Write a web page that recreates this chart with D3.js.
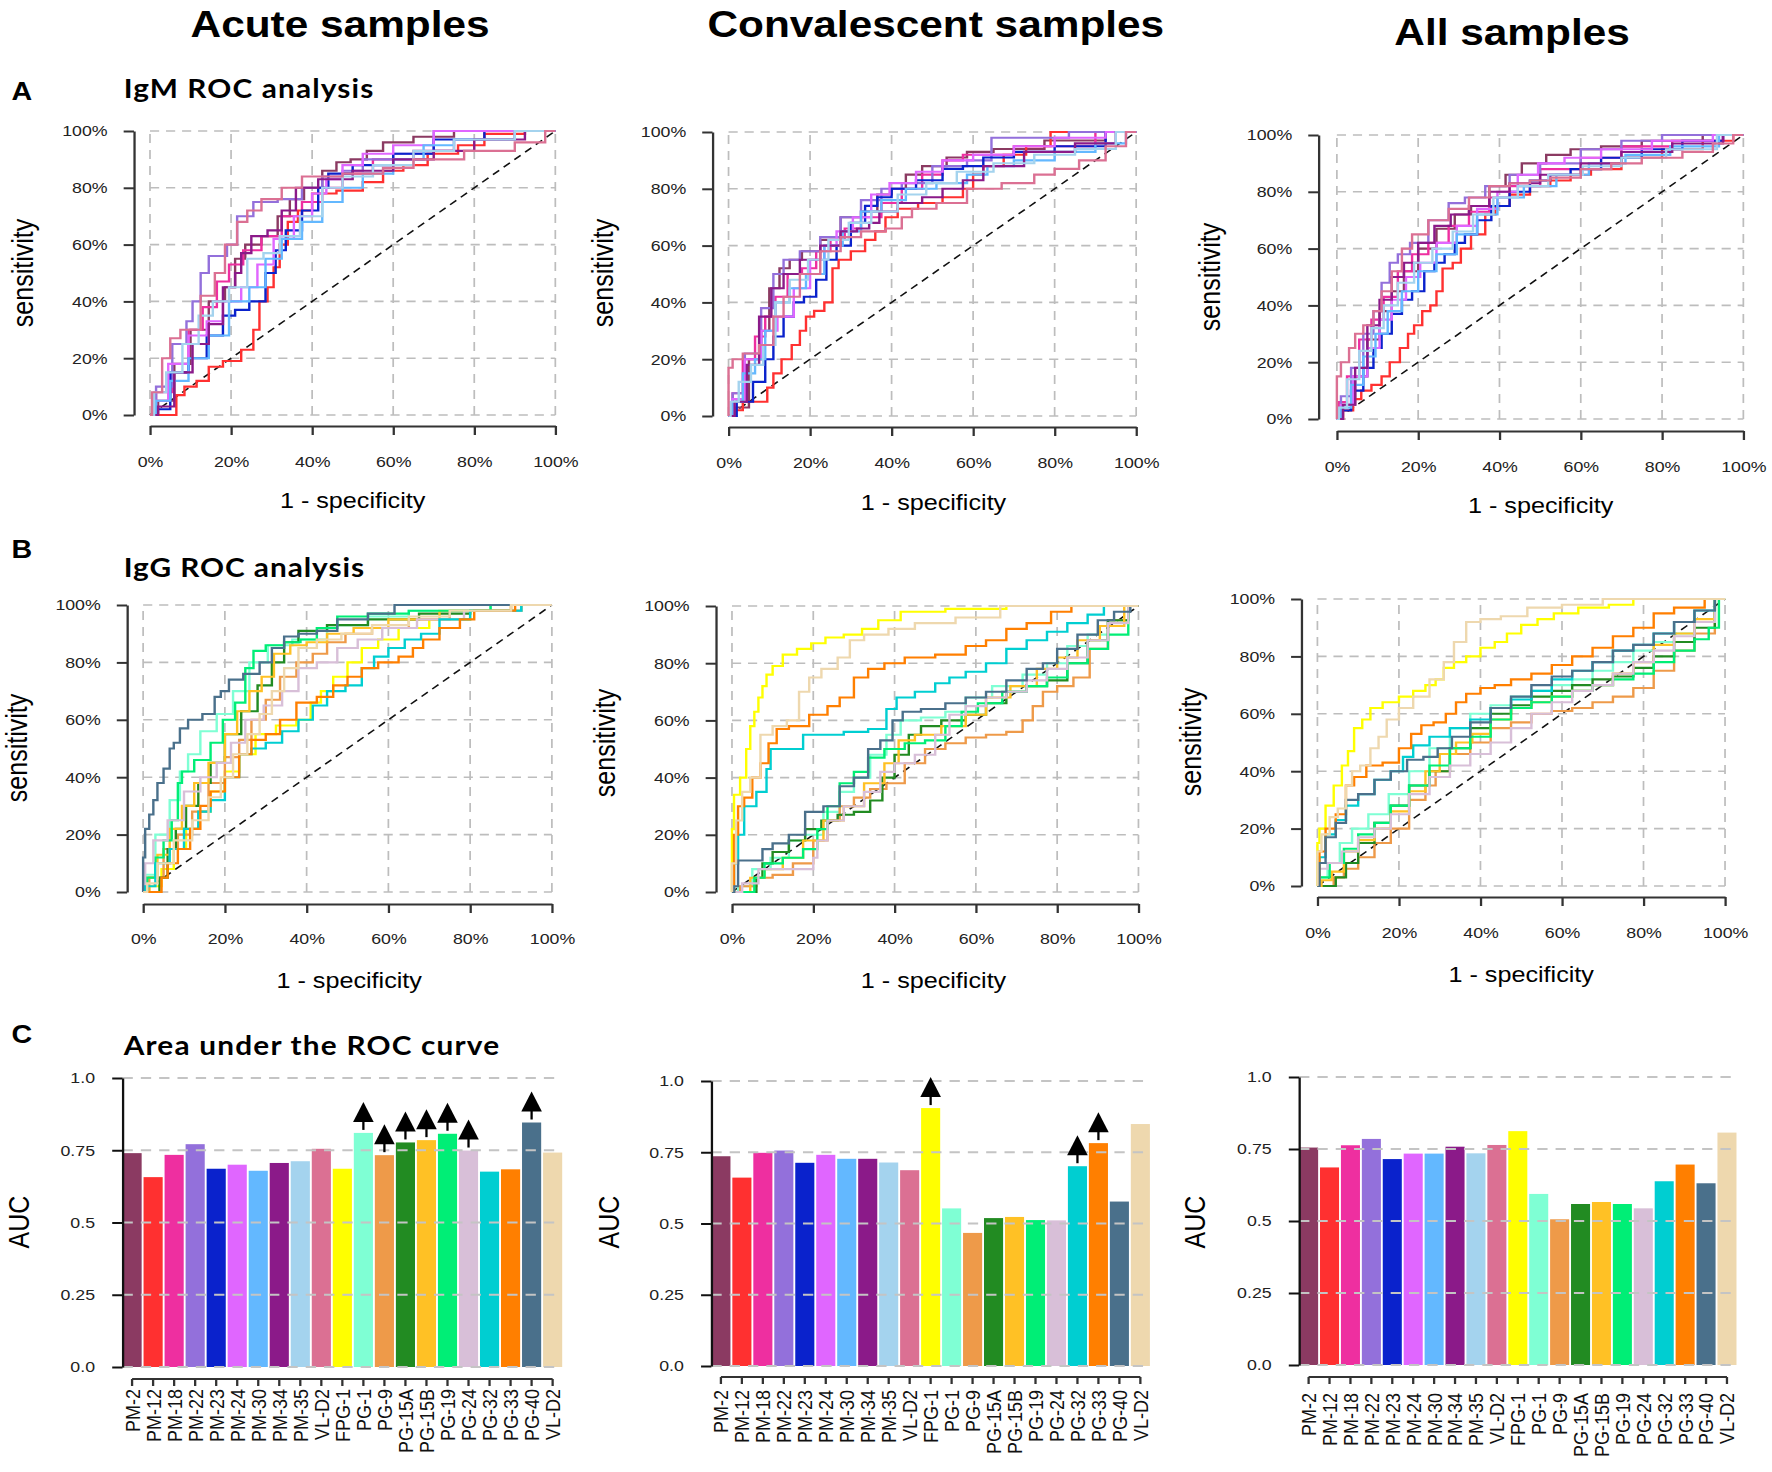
<!DOCTYPE html>
<html>
<head>
<meta charset="utf-8">
<script src="https://cdn.jsdelivr.net/npm/d3@7"></script>
<style>
  body { margin: 0; background: white; }
  svg { font-family: "Liberation Sans", Arial, sans-serif; }
</style>
</head>
<body>
<div id="fig"></div>
<script>
const width_fig = 1772
const height_fig = 1472

// antigenos, en el orden de las barras
const markers = ["PM-2", "PM-12", "PM-18", "PM-22", "PM-23", "PM-24", "PM-30", "PM-34", "PM-35", "VL-D2",
  "FPG-1", "PG-1", "PG-9", "PG-15A", "PG-15B", "PG-19", "PG-24", "PG-32", "PG-33", "PG-40", "VL-D2 "]
const marker_colors = ["#8B3A62", "#FF3030", "#EE2FA0", "#9370DB", "#0A22CC", "#E066FF", "#63B8FF", "#8B1A89", "#A4D3EE", "#DB7093",
  "#FFFF00", "#7FFFD4", "#EE9A49", "#228B22", "#FFC125", "#00EE76", "#D8BFD8", "#00CED1", "#FF7F00", "#4A708B", "#EED8AE"]
const igm_colors = marker_colors.slice(0, 10)
const igg_colors = marker_colors.slice(10)

const auc_acute = [0.740, 0.657, 0.734, 0.771, 0.686, 0.700, 0.679, 0.706, 0.712, 0.755,
  0.686, 0.810, 0.733, 0.777, 0.785, 0.807, 0.749, 0.676, 0.684, 0.846, 0.742]
const auc_conv = [0.736, 0.661, 0.748, 0.756, 0.713, 0.741, 0.727, 0.727, 0.714, 0.687,
  0.905, 0.553, 0.467, 0.519, 0.523, 0.512, 0.511, 0.701, 0.782, 0.577, 0.849]
const auc_all = [0.755, 0.686, 0.763, 0.785, 0.715, 0.734, 0.734, 0.758, 0.735, 0.764,
  0.812, 0.594, 0.506, 0.559, 0.566, 0.559, 0.544, 0.638, 0.696, 0.631, 0.807]
const arrows_acute = ["PG-1", "PG-9", "PG-15A", "PG-15B", "PG-19", "PG-24", "PG-40"]
const arrows_conv = ["FPG-1", "PG-32", "PG-33"]
const arrows_all = []

const pct_ticks = [0, 20, 40, 60, 80, 100]
const auc_ticks = [0, 0.25, 0.5, 0.75, 1]
const auc_tick_labels = ["0.0", "0.25", "0.5", "0.75", "1.0"]

// curvas ROC [1 - especificidad %, sensibilidad %], mismo orden que igm_colors
const igm_acute = [
  [[0,0],[4,5],[8,18],[12,30],[17,40],[20,45],[22,55],[25,60],[30,63],[33,70],[36,76],[40,80],[45,86],[47,89],[52,90],[55,93],[60,96],[70,98],[80,100],[100,100]],
  [[0,0],[6,0],[7,7],[10,10],[13,12],[16,17],[20,19],[25,23],[26,30],[28,40],[30,45],[31,52],[33,60],[35,68],[38,72],[42,78],[50,79],[55,82],[60,86],[65,88],[72,92],[80,95],[85,99],[100,100]],
  [[0,0],[3,8],[8,15],[11,30],[15,38],[18,47],[21,53],[25,58],[30,63],[35,70],[40,75],[45,80],[50,85],[60,90],[70,93],[80,97],[100,100]],
  [[0,0],[3,10],[8,25],[10,33],[11,40],[14,50],[15,56],[18,56],[20,60],[23,70],[28,75],[35,76],[40,80],[45,84],[50,86],[55,90],[65,92],[75,100],[100,100]],
  [[0,0],[3,2],[7,15],[12,20],[16,28],[20,35],[22,37],[27,40],[30,50],[32,58],[35,65],[40,72],[43,80],[45,85],[55,88],[65,92],[75,97],[90,100],[100,100]],
  [[0,0],[2,5],[7,18],[12,28],[16,33],[20,40],[25,45],[28,53],[33,62],[38,70],[42,78],[45,83],[50,88],[55,92],[65,95],[75,100],[100,100]],
  [[0,0],[3,5],[7,12],[12,20],[17,28],[22,40],[27,45],[30,55],[35,62],[40,68],[45,75],[50,80],[55,85],[65,90],[70,95],[80,97],[100,100]],
  [[0,0],[4,3],[8,15],[13,25],[16,32],[20,45],[22,50],[23,57],[27,63],[31,65],[34,72],[38,80],[45,83],[55,86],[65,90],[75,93],[85,97],[100,100]],
  [[0,0],[2,8],[6,15],[10,25],[14,35],[17,40],[22,45],[26,55],[30,57],[34,63],[40,70],[45,80],[50,84],[60,88],[70,93],[80,97],[100,100]],
  [[0,0],[1,8],[5,20],[5,27],[10,30],[15,42],[17,50],[20,60],[23,68],[25,72],[30,76],[35,80],[40,84],[55,85],[60,87],[70,90],[85,93],[95,96],[100,100]]
]
const igm_conv = [
  [[0,0],[3,3],[7,20],[9,30],[11,45],[14,52],[16,55],[20,58],[25,62],[30,70],[35,72],[38,78],[42,80],[45,85],[50,88],[57,91],[60,93],[70,94],[85,97],[100,100]],
  [[0,0],[2,2],[5,5],[9,5],[10,10],[12,15],[14,20],[17,25],[18,30],[20,35],[22,37],[25,40],[26,52],[28,55],[32,58],[35,62],[37,65],[40,70],[43,73],[50,75],[55,77],[60,80],[60,85],[65,88],[70,92],[76,95],[82,100],[100,100]],
  [[0,0],[2,8],[5,20],[8,28],[10,35],[13,42],[16,50],[20,52],[23,58],[27,62],[30,66],[35,70],[40,75],[45,80],[50,85],[55,90],[60,92],[80,95],[100,100]],
  [[0,0],[2,8],[6,22],[10,38],[12,50],[15,55],[20,58],[25,63],[30,70],[35,76],[40,80],[45,82],[55,88],[62,90],[67,98],[100,100]],
  [[0,0],[4,5],[8,12],[10,20],[12,28],[15,35],[17,40],[20,42],[23,48],[25,55],[28,60],[32,68],[35,74],[38,77],[42,80],[50,83],[55,87],[60,88],[65,91],[75,93],[85,95],[100,100]],
  [[0,0],[2,6],[6,20],[10,30],[14,35],[18,45],[22,55],[25,60],[28,65],[33,70],[37,78],[42,82],[50,86],[55,90],[65,92],[75,95],[85,98],[100,100]],
  [[0,0],[2,5],[5,15],[8,20],[10,30],[13,40],[17,45],[21,50],[26,60],[30,65],[35,72],[40,76],[47,80],[55,82],[62,85],[65,88],[75,90],[85,93],[95,96],[100,100]],
  [[0,0],[3,5],[6,18],[9,35],[12,45],[15,50],[20,55],[25,60],[30,65],[33,66],[36,68],[38,72],[45,75],[50,77],[55,80],[60,83],[65,88],[80,93],[90,96],[100,100]],
  [[0,0],[1,5],[4,12],[7,18],[10,25],[13,40],[17,48],[22,55],[27,62],[32,68],[38,72],[45,78],[52,82],[60,86],[70,89],[80,92],[90,94],[100,100]],
  [[0,0],[0,17],[2,20],[5,22],[10,25],[12,35],[15,42],[20,50],[25,58],[30,63],[35,65],[42,66],[43,70],[47,73],[55,75],[62,80],[72,82],[78,85],[82,87],[90,90],[95,95],[100,100]]
]
const igm_all = [
  [[0,0],[3,5],[6,15],[9,28],[12,38],[15,45],[18,52],[22,60],[27,67],[31,72],[35,75],[40,82],[43,86],[48,90],[55,93],[60,95],[70,96],[80,98],[100,100]],
  [[0,0],[3,3],[5,7],[7,10],[10,12],[12,15],[14,20],[17,25],[18,30],[20,33],[22,38],[24,40],[25,45],[27,53],[30,55],[31,60],[35,65],[38,72],[40,75],[45,79],[50,82],[55,84],[60,86],[65,88],[75,92],[85,95],[95,98],[100,100]],
  [[0,0],[1,6],[4,15],[7,28],[10,35],[13,43],[17,52],[20,58],[25,62],[30,68],[35,73],[40,78],[45,82],[55,88],[65,92],[75,96],[90,98],[100,100]],
  [[0,0],[2,8],[5,18],[8,30],[10,38],[12,48],[14,55],[16,58],[20,62],[25,70],[30,76],[33,78],[40,82],[45,86],[55,90],[65,95],[75,98],[85,100],[100,100]],
  [[0,0],[2,3],[5,10],[8,18],[10,25],[12,30],[15,37],[17,42],[20,45],[23,52],[25,55],[28,58],[30,62],[33,65],[36,70],[40,75],[45,80],[50,84],[55,86],[60,88],[70,92],[80,95],[90,98],[100,100]],
  [[0,0],[2,5],[6,15],[9,25],[12,35],[15,42],[19,50],[22,55],[27,62],[32,68],[37,74],[42,80],[47,86],[52,90],[60,92],[70,95],[85,98],[100,100]],
  [[0,0],[2,4],[5,12],[8,22],[11,30],[14,38],[18,45],[22,52],[27,58],[32,65],[37,72],[42,78],[50,82],[58,86],[66,90],[76,93],[88,96],[100,100]],
  [[0,0],[3,5],[6,18],[9,33],[12,42],[15,50],[18,55],[22,62],[26,68],[30,72],[35,75],[40,80],[45,83],[55,86],[65,90],[75,94],[90,97],[100,100]],
  [[0,0],[1,4],[4,14],[7,24],[10,32],[13,40],[17,48],[21,55],[26,60],[31,66],[36,72],[41,78],[48,82],[56,86],[65,89],[75,92],[87,95],[100,100]],
  [[0,0],[0,15],[2,20],[4,25],[5,30],[8,33],[10,38],[12,45],[15,52],[17,60],[20,65],[25,70],[30,74],[35,78],[40,82],[45,83],[50,84],[55,85],[65,88],[70,90],[80,92],[90,94],[95,97],[100,100]]
]

// mismo orden que igg_colors
const igg_acute = [
  [[0,0],[3,2],[6,8],[9,15],[12,22],[15,28],[18,35],[22,42],[25,48],[30,55],[35,58],[40,60],[42,66],[45,70],[48,75],[52,80],[55,85],[60,88],[65,92],[75,95],[85,98],[100,100]],
  [[0,0],[1,6],[5,20],[8,32],[10,42],[12,48],[16,56],[20,62],[24,70],[28,80],[33,86],[40,88],[50,93],[60,96],[70,98],[100,100]],
  [[0,0],[3,5],[7,15],[10,20],[14,28],[18,38],[22,47],[25,53],[28,60],[32,67],[35,75],[40,80],[43,83],[47,87],[52,90],[60,92],[70,95],[80,98],[100,100]],
  [[0,0],[3,0],[5,5],[7,15],[9,22],[12,30],[15,38],[18,45],[22,55],[26,63],[30,72],[33,80],[36,87],[40,91],[50,93],[60,95],[75,97],[85,98],[100,100]],
  [[0,0],[2,5],[5,13],[8,22],[11,30],[14,38],[18,45],[22,55],[24,63],[28,70],[30,75],[34,83],[38,86],[42,87],[48,90],[55,92],[65,95],[80,98],[100,100]],
  [[0,0],[2,5],[4,12],[6,18],[8,25],[9,38],[10,42],[15,46],[18,52],[21,60],[24,66],[26,78],[28,84],[32,86],[37,87],[40,88],[45,92],[50,96],[60,97],[70,98],[100,100]],
  [[0,0],[1,10],[4,18],[8,25],[12,35],[16,40],[20,45],[23,52],[27,60],[32,65],[36,70],[40,78],[45,80],[50,85],[55,88],[62,92],[72,95],[85,98],[100,100]],
  [[0,0],[1,2],[5,10],[8,15],[12,22],[15,28],[18,32],[22,40],[25,48],[28,50],[32,52],[36,56],[40,60],[43,65],[47,70],[52,72],[55,78],[58,82],[62,85],[66,88],[70,90],[75,95],[85,98],[100,100]],
  [[0,0],[4,0],[5,5],[7,10],[10,15],[13,22],[15,30],[18,35],[22,40],[25,48],[28,53],[32,55],[35,60],[40,66],[45,68],[48,72],[52,75],[55,78],[60,80],[65,82],[67,85],[70,88],[75,92],[80,95],[82,98],[100,100]],
  [[0,0],[0,12],[1,22],[2,27],[3,32],[4,38],[6,43],[7,50],[8,52],[10,57],[12,60],[17,62],[18,68],[20,70],[22,74],[27,76],[30,80],[33,85],[36,89],[40,90],[45,91],[50,95],[60,97],[63,100],[100,100]],
  [[0,0],[2,3],[5,10],[10,18],[14,25],[18,33],[20,40],[24,48],[27,55],[30,62],[33,70],[36,78],[40,85],[45,88],[52,90],[60,93],[70,96],[80,98],[100,100]]
]
const igg_conv = [
  [[0,0],[0,22],[1,34],[3,40],[4,50],[5,58],[6,63],[7,68],[8,72],[9,76],[11,79],[14,83],[18,85],[21,87],[25,89],[30,90],[34,92],[38,95],[45,98],[60,99],[75,100],[100,100]],
  [[0,0],[3,2],[7,8],[12,12],[16,18],[20,20],[25,28],[28,35],[32,40],[36,48],[40,55],[43,60],[50,61],[55,63],[60,68],[68,72],[75,76],[80,80],[85,86],[90,90],[95,95],[100,100]],
  [[0,0],[4,2],[8,5],[12,6],[18,10],[22,18],[25,25],[28,30],[32,33],[36,36],[40,38],[45,45],[50,50],[55,52],[60,54],[65,55],[70,56],[73,60],[75,65],[78,70],[82,72],[86,75],[90,85],[95,95],[100,100]],
  [[0,0],[5,0],[7,5],[8,10],[12,14],[16,18],[20,22],[24,25],[28,27],[32,28],[36,32],[38,40],[42,48],[45,55],[48,58],[55,60],[60,62],[65,66],[70,70],[75,72],[80,74],[85,80],[90,88],[95,95],[100,100]],
  [[0,0],[3,0],[6,5],[10,8],[15,12],[20,18],[25,25],[30,30],[35,38],[40,45],[42,53],[48,55],[55,58],[60,62],[65,68],[72,72],[78,78],[82,82],[88,88],[93,93],[100,100]],
  [[0,0],[5,0],[6,5],[10,10],[15,12],[20,15],[22,22],[25,30],[28,38],[32,42],[35,47],[40,50],[45,52],[50,53],[55,58],[58,63],[63,66],[70,70],[75,72],[80,75],[85,80],[90,85],[95,90],[100,100]],
  [[0,0],[5,3],[8,8],[12,8],[20,8],[20,12],[22,18],[25,25],[30,30],[35,35],[38,42],[42,45],[48,48],[52,55],[55,62],[60,65],[65,68],[70,70],[75,74],[80,78],[85,82],[90,88],[95,94],[100,100]],
  [[0,0],[1,10],[2,20],[4,30],[8,35],[9,43],[10,50],[15,50],[20,55],[25,55],[30,56],[37,57],[39,64],[42,68],[48,70],[52,73],[55,75],[60,77],[65,80],[70,85],[75,88],[80,91],[85,94],[90,97],[93,100],[100,100]],
  [[0,0],[1,20],[2,30],[4,33],[6,40],[8,45],[10,52],[12,57],[16,58],[22,62],[25,65],[28,68],[32,75],[35,78],[40,80],[45,82],[55,83],[60,86],[65,88],[70,92],[75,94],[82,98],[85,100],[100,100]],
  [[0,0],[1,2],[2,11],[7,11],[8,15],[12,17],[16,20],[20,28],[25,30],[28,37],[32,40],[35,50],[38,53],[41,60],[43,63],[50,64],[55,66],[60,68],[65,70],[70,74],[75,78],[78,80],[82,85],[88,90],[92,95],[96,98],[100,100]],
  [[0,0],[0,10],[2,25],[3,35],[6,40],[8,55],[12,58],[15,60],[18,70],[20,75],[24,78],[28,82],[30,88],[35,90],[42,92],[48,94],[62,96],[70,100],[100,100]]
]
const igg_all = [
  [[0,0],[0,15],[1,20],[3,28],[5,35],[7,42],[8,47],[10,55],[12,58],[14,62],[18,64],[22,66],[25,68],[28,70],[30,72],[32,76],[35,78],[38,80],[42,83],[45,85],[48,88],[52,91],[56,93],[60,95],[68,97],[75,98],[80,100],[100,100]],
  [[0,0],[1,3],[4,8],[7,15],[10,20],[15,25],[20,32],[25,40],[30,48],[35,55],[40,60],[45,63],[50,66],[55,68],[60,70],[65,72],[70,75],[75,78],[80,82],[85,85],[90,88],[95,92],[100,100]],
  [[0,0],[3,0],[5,3],[8,6],[12,10],[16,15],[20,20],[25,30],[28,35],[30,40],[35,46],[40,50],[45,55],[50,57],[55,60],[60,61],[65,62],[70,64],[75,66],[80,69],[85,75],[90,82],[95,88],[100,100]],
  [[0,0],[3,0],[6,3],[8,8],[12,15],[16,22],[20,28],[25,35],[30,40],[35,48],[40,55],[45,60],[50,63],[55,66],[60,68],[65,70],[70,72],[75,73],[80,76],[85,80],[90,85],[95,90],[100,100]],
  [[0,0],[2,2],[5,5],[8,12],[12,16],[16,20],[20,26],[25,33],[28,40],[32,46],[36,50],[40,53],[45,58],[50,62],[55,64],[60,66],[65,68],[70,70],[75,74],[80,78],[85,84],[90,88],[95,93],[100,100]],
  [[0,0],[1,3],[5,8],[8,13],[12,18],[16,22],[20,28],[25,35],[30,42],[35,48],[40,52],[45,58],[50,62],[55,64],[60,66],[65,68],[70,70],[75,72],[80,74],[85,78],[90,82],[95,86],[97,90],[100,100]],
  [[0,0],[1,6],[4,8],[8,12],[12,17],[16,20],[20,25],[25,32],[30,38],[35,42],[40,46],[45,50],[50,55],[55,60],[60,64],[65,68],[70,70],[75,74],[80,78],[85,82],[90,87],[95,92],[100,100]],
  [[0,0],[1,10],[3,18],[6,23],[8,28],[12,32],[16,37],[20,40],[22,45],[25,49],[30,52],[35,55],[40,58],[45,62],[50,65],[55,68],[60,72],[65,75],[70,78],[75,82],[80,84],[85,88],[90,92],[95,96],[100,100]],
  [[0,0],[1,12],[3,20],[6,25],[8,35],[10,38],[14,42],[18,43],[22,48],[24,53],[27,56],[30,57],[33,60],[35,64],[38,67],[42,69],[45,70],[50,72],[55,74],[60,77],[65,80],[70,83],[75,87],[80,90],[85,95],[90,97],[100,100]],
  [[0,0],[1,8],[3,17],[6,22],[8,30],[12,32],[16,37],[20,40],[24,44],[28,45],[31,48],[35,52],[40,57],[45,62],[50,66],[55,70],[60,73],[65,75],[70,78],[75,82],[80,84],[85,88],[90,92],[95,96],[100,100]],
  [[0,0],[0,12],[2,18],[4,24],[6,27],[8,35],[9,40],[12,42],[14,48],[16,52],[18,58],[22,62],[25,66],[30,72],[32,78],[35,85],[38,92],[42,93],[48,94],[55,97],[65,98],[75,100],[100,100]]
]

const svg = d3.select("#fig").append("svg")
    .attr("width", width_fig)
    .attr("height", height_fig)
    .style("background-color", "white")

// la figura original esta estirada a lo ancho: cada columna se escala en x
const stretch_x = 1.145
const columnas = [0, 590, 1172].map(off => svg.append("g")
    .attr("transform", `translate(${off},0) scale(${stretch_x},1)`))

const col_titles = ["Acute samples", "Convalescent samples", "All samples"]
const col_title_pos = [{x: 297, y: 37}, {x: 302, y: 37}, {x: 297, y: 45}]
columnas.forEach((g, i) => {
    g.append("text")
        .attr("x", col_title_pos[i].x)
        .attr("y", col_title_pos[i].y)
        .attr("text-anchor", "middle")
        .attr("font-size", 37)
        .attr("font-weight", "bold")
        .text(col_titles[i])
})

const row_titles = [
  {letter: "A", ly: 100, text: "IgM ROC analysis", y: 98, w: 218},
  {letter: "B", ly: 558, text: "IgG ROC analysis", y: 577, w: 210},
  {letter: "C", ly: 1043, text: "Area under the ROC curve", y: 1055, w: 328}
]
columnas[0].selectAll(".row-letter").data(row_titles).join("text")
    .attr("class", "row-letter")
    .attr("x", 10)
    .attr("y", d => d.ly)
    .attr("font-size", 25)
    .attr("font-weight", "bold")
    .text(d => d.letter)
columnas[0].selectAll(".row-title").data(row_titles).join("text")
    .attr("class", "row-title")
    .attr("x", 108)
    .attr("y", d => d.y)
    .attr("font-family", "Lato, 'Open Sans', sans-serif")
    .attr("font-size", 26)
    .attr("font-weight", "bold")
    .attr("textLength", d => d.w)
    .text(d => d.text)


function drawRoc(parent, p, curvas, colores) {
    const x = d3.scaleLinear().domain([0, 100]).range([p.x0, p.x1])
    const y = d3.scaleLinear().domain([0, 100]).range([p.yb, p.yt])
    const g = parent.append("g")

    g.selectAll(".vgrid").data(pct_ticks).join("line")
        .attr("x1", d => x(d)).attr("x2", d => x(d))
        .attr("y1", y(0)).attr("y2", y(100))
        .attr("stroke", "#bdbdbd").attr("stroke-width", 1.5)
        .attr("stroke-dasharray", "9,7")
    g.selectAll(".hgrid").data(pct_ticks).join("line")
        .attr("x1", x(0)).attr("x2", x(100))
        .attr("y1", d => y(d)).attr("y2", d => y(d))
        .attr("stroke", "#bdbdbd").attr("stroke-width", 1.6)
        .attr("stroke-dasharray", "8,6")

    g.append("line")
        .attr("x1", x(0)).attr("y1", y(0))
        .attr("x2", x(100)).attr("y2", y(100))
        .attr("stroke", "#111").attr("stroke-width", 1.5)
        .attr("stroke-dasharray", "7,5")

    const linea = d3.line()
        .x(d => x(d[0]))
        .y(d => y(d[1]))
        .curve(d3.curveStep)

    g.selectAll(".curva").data(curvas).join("path")
        .attr("class", "curva")
        .attr("d", linea)
        .attr("fill", "none")
        .attr("stroke", (d, i) => colores[i])
        .attr("stroke-width", 2.1)

    const ejeY = d3.axisLeft(y).tickValues(pct_ticks).tickFormat(d => d + "%")
        .tickSize(9).tickSizeOuter(0).tickPadding(14)
    const gy = g.append("g").attr("transform", `translate(${p.ax},0)`).call(ejeY)

    const ejeX = d3.axisBottom(x).tickValues(pct_ticks).tickFormat(d => d + "%")
        .tickSize(9).tickSizeOuter(0).tickPadding(p.lab - p.ay - 15)
    const gx = g.append("g").attr("transform", `translate(0,${p.ay})`).call(ejeX)

    ;[gx, gy].forEach(e => {
        e.attr("font-family", null).attr("font-size", null)
        e.select(".domain").attr("stroke", "#333").attr("stroke-width", 2)
        e.selectAll(".tick line").attr("stroke", "#333").attr("stroke-width", 2)
        e.selectAll(".tick text").attr("font-size", 15.5).attr("fill", "#222")
    })

    g.append("text")
        .attr("x", p.tx).attr("y", p.ty)
        .attr("text-anchor", "middle")
        .attr("font-size", 22)
        .text("1 - specificity")
    g.append("text")
        .attr("transform", `translate(${p.sx},${p.sy}) rotate(-90)`)
        .attr("text-anchor", "middle")
        .attr("dy", "0.35em")
        .attr("font-size", 25)
        .text("sensitivity")
}

function drawBars(parent, p, valores, flechas) {
    const x = d3.scaleBand().domain(markers).range([p.ax, p.xr]).paddingInner(0.09).paddingOuter(0)
    const y = d3.scaleLinear().domain([0, 1]).range([p.y0, p.y1])
    const g = parent.append("g")
    const datos = markers.map((m, i) => ({m: m, v: valores[i], c: marker_colors[i]}))

    g.selectAll(".barra").data(datos).join("rect")
        .attr("class", "barra")
        .attr("x", d => x(d.m))
        .attr("width", x.bandwidth())
        .attr("y", d => y(d.v))
        .attr("height", d => y(0) - y(d.v))
        .attr("fill", d => d.c)

    g.selectAll(".grid").data(auc_ticks).join("line")
        .attr("x1", p.ax).attr("x2", p.xr)
        .attr("y1", d => y(d)).attr("y2", d => y(d))
        .attr("stroke", "#c4c4c4").attr("stroke-width", 2)
        .attr("stroke-dasharray", "9,7")

    const ejeY = d3.axisLeft(y).tickValues(auc_ticks).tickFormat((d, i) => auc_tick_labels[i])
        .tickSize(9).tickSizeOuter(0).tickPadding(15)
    const gy = g.append("g").attr("transform", `translate(${p.ax},0)`).call(ejeY)
    gy.attr("font-family", null).attr("font-size", null)
    gy.select(".domain").attr("stroke", "#111").attr("stroke-width", 2)
    gy.selectAll(".tick line").attr("stroke", "#111").attr("stroke-width", 2)
    gy.selectAll(".tick text").attr("font-size", 15.5).attr("fill", "#222")

    const ejeX = d3.axisBottom(x).tickSize(7).tickSizeOuter(0).tickFormat("")
    const gx = g.append("g").attr("transform", `translate(0,${p.ay})`).call(ejeX)
    gx.select(".domain").remove()
    gx.selectAll(".tick line").attr("stroke", "#333").attr("stroke-width", 2)
    gx.append("line")
        .attr("x1", x(markers[0]) + x.bandwidth() / 2)
        .attr("x2", x(markers[markers.length - 1]) + x.bandwidth() / 2)
        .attr("stroke", "#333").attr("stroke-width", 2)

    g.selectAll(".etiqueta").data(datos).join("text")
        .attr("class", "etiqueta")
        .attr("transform", d => `translate(${x(d.m) + x.bandwidth() / 2},${p.lab}) rotate(-90)`)
        .attr("text-anchor", "end")
        .attr("dy", "0.36em")
        .attr("font-size", 18)
        .attr("fill", "#111")
        .text(d => d.m.trim())

    const con_flecha = datos.filter(d => flechas.includes(d.m))
    con_flecha.forEach(d => {
        const cx = x(d.m) + x.bandwidth() / 2
        const top = y(d.v)
        g.append("line")
            .attr("x1", cx).attr("x2", cx)
            .attr("y1", top - 3).attr("y2", top - 13)
            .attr("stroke", "black").attr("stroke-width", 2)
        g.append("path")
            .attr("d", `M${cx - 9},${top - 11} L${cx + 9},${top - 11} L${cx},${top - 31} Z`)
            .attr("fill", "black")
    })

    g.append("text")
        .attr("transform", `translate(${p.sx},${p.sy}) rotate(-90)`)
        .attr("text-anchor", "middle")
        .attr("dy", "0.35em")
        .attr("font-size", 25)
        .text("AUC")
}

// posiciones dentro de cada columna (antes del estiramiento)
const roc_panels = [
  {x0: 131, x1: 485, yt: 131, yb: 415, ax: 117, ay: 426, lab: 462, tx: 308, ty: 508, sx: 20, sy: 273},
  {x0: 121, x1: 477, yt: 132, yb: 416, ax: 107, ay: 427, lab: 463, tx: 300, ty: 510, sx: 11, sy: 273},
  {x0: 144, x1: 499, yt: 135, yb: 419, ax: 128, ay: 431, lab: 467, tx: 322, ty: 513, sx: 33, sy: 277},
  {x0: 125, x1: 482, yt: 605, yb: 892, ax: 111, ay: 904, lab: 939, tx: 305, ty: 988, sx: 15, sy: 748},
  {x0: 124, x1: 479, yt: 606, yb: 892, ax: 110, ay: 904, lab: 939, tx: 300, ty: 988, sx: 13, sy: 743},
  {x0: 127, x1: 483, yt: 599, yb: 886, ax: 113, ay: 897, lab: 933, tx: 305, ty: 982, sx: 17, sy: 742}
]
drawRoc(columnas[0], roc_panels[0], igm_acute, igm_colors)
drawRoc(columnas[1], roc_panels[1], igm_conv, igm_colors)
drawRoc(columnas[2], roc_panels[2], igm_all, igm_colors)
drawRoc(columnas[0], roc_panels[3], igg_acute, igg_colors)
drawRoc(columnas[1], roc_panels[4], igg_conv, igg_colors)
drawRoc(columnas[2], roc_panels[5], igg_all, igg_colors)

const bar_panels = [
  {ax: 107, xr: 491, y1: 1078, y0: 1367, ay: 1379, lab: 1389, sx: 17, sy: 1222},
  {ax: 106, xr: 489, y1: 1081, y0: 1366, ay: 1377, lab: 1390, sx: 17, sy: 1222},
  {ax: 111, xr: 493, y1: 1077, y0: 1365, ay: 1377, lab: 1393, sx: 20, sy: 1222}
]
drawBars(columnas[0], bar_panels[0], auc_acute, arrows_acute)
drawBars(columnas[1], bar_panels[1], auc_conv, arrows_conv)
drawBars(columnas[2], bar_panels[2], auc_all, arrows_all)
</script>
</body>
</html>
